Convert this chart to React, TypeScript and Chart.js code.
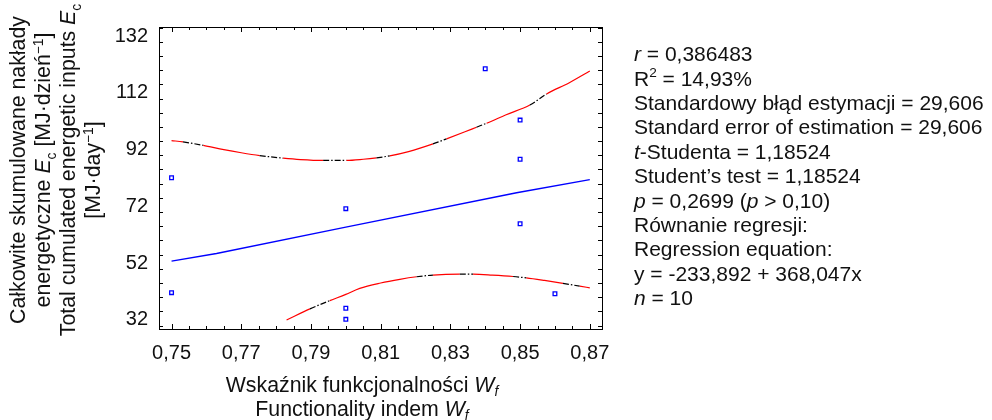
import { useEffect, useRef } from 'react';
import { Chart, registerables } from 'chart.js';

Chart.register(...registerables);

// ---------- data ----------
const X_TICKS = [0.75, 0.77, 0.79, 0.81, 0.83, 0.85, 0.87];
const Y_TICKS = [32, 52, 72, 92, 112, 132];
const X_MIN = 0.7464;
const X_MAX = 0.8735;
const Y_MIN = 28.8;
const Y_MAX = 135.2;

const POINT_X = [0.75, 0.75, 0.8, 0.8, 0.8, 0.84, 0.85, 0.85, 0.85, 0.86];
const POINT_Y = [82.1, 41.6, 71.2, 36.1, 32.2, 120.5, 102.4, 88.6, 65.9, 41.2];

const FIT_X = [0.75, 0.7629, 0.8, 0.849, 0.87];
const FIT_Y = [52.7, 55.4, 64.7, 76.8, 81.4];

const UPPER_X = [0.75, 0.7533, 0.7591, 0.765, 0.77, 0.7753, 0.782, 0.787, 0.7935, 0.8002, 0.805, 0.8088, 0.8126, 0.818, 0.825, 0.8289, 0.834, 0.8375, 0.8404, 0.846, 0.8528, 0.8576, 0.864, 0.87];
const UPPER_Y = [95.2, 94.7, 93.5, 92.0, 90.9, 89.9, 89.0, 88.5, 88.2, 88.2, 88.6, 89.1, 89.8, 91.3, 94.0, 95.8, 98.2, 99.9, 101.3, 104.3, 107.7, 111.6, 115.5, 119.7];
const UPPER_DASHED = [[0.7533, 0.7591], [0.7753, 0.782], [0.7935, 0.8002], [0.8088, 0.8126], [0.825, 0.8289], [0.8375, 0.8404], [0.8528, 0.8576]];

const LOWER_X = [0.783, 0.7897, 0.7954, 0.8, 0.804, 0.81, 0.8155, 0.8203, 0.825, 0.8327, 0.8365, 0.842, 0.848, 0.8518, 0.857, 0.8623, 0.8671, 0.87];
const LOWER_Y = [32.0, 35.9, 38.8, 41.0, 43.1, 45.0, 46.3, 47.2, 47.8, 48.1, 48.1, 47.8, 47.3, 46.8, 45.9, 44.9, 43.9, 43.3];
const LOWER_DASHED = [[0.7897, 0.7954], [0.8203, 0.825], [0.8327, 0.8365], [0.848, 0.8518], [0.8623, 0.8671]];

type Seg = { t: string; i?: boolean; sub?: boolean; sup?: boolean };

const STATS: Seg[][] = [
  [{ t: 'r', i: true }, { t: ' = 0,386483' }],
  [{ t: 'R' }, { t: '2', sup: true }, { t: ' = 14,93%' }],
  [{ t: 'Standardowy błąd estymacji = 29,606' }],
  [{ t: 'Standard error of estimation = 29,606' }],
  [{ t: 't', i: true }, { t: '-Studenta = 1,18524' }],
  [{ t: 'Student\u2019s test = 1,18524' }],
  [{ t: 'p', i: true }, { t: ' = 0,2699 (' }, { t: 'p', i: true }, { t: ' > 0,10)' }],
  [{ t: 'Równanie regresji:' }],
  [{ t: 'Regression equation:' }],
  [{ t: 'y = -233,892 + 368,047x' }],
  [{ t: 'n', i: true }, { t: ' = 10' }],
];

const Y_TITLE: Seg[][] = [
  [{ t: 'Całkowite skumulowane nakłady' }],
  [{ t: 'energetyczne ' }, { t: 'E', i: true }, { t: 'c', sub: true }, { t: ' [MJ·dzień' }, { t: '\u22121', sup: true }, { t: ']' }],
  [{ t: 'Total cumulated energetic inputs ' }, { t: 'E', i: true }, { t: 'c', sub: true }],
  [{ t: '[MJ·day' }, { t: '\u22121', sup: true }, { t: ']' }],
];

const X_TITLE: Seg[][] = [
  [{ t: 'Wskaźnik funkcjonalności ' }, { t: 'W', i: true }, { t: 'f', sub: true, i: true }],
  [{ t: 'Functionality indem ' }, { t: 'W', i: true }, { t: 'f', sub: true, i: true }],
];

// ---------- style ----------
const FONT = '"Liberation Sans", Arial, sans-serif';
const TICK_FS = 20;
const TITLE_FS = 21.3;
const STATS_FS = 21;
const TEXT = '#111';

function fontFor(s: Seg, size: number) {
  const sz = s.sub || s.sup ? size * 0.65 : size;
  return `${s.i ? 'italic ' : ''}${sz}px ${FONT}`;
}

function richWidth(ctx: CanvasRenderingContext2D, segs: Seg[], size: number) {
  let w = 0;
  for (const s of segs) {
    ctx.font = fontFor(s, size);
    w += ctx.measureText(s.t).width;
  }
  return w;
}

function drawRich(
  ctx: CanvasRenderingContext2D,
  segs: Seg[],
  x: number,
  y: number,
  align: 'left' | 'center',
  size: number,
  baseline: CanvasTextBaseline = 'middle'
) {
  const w = richWidth(ctx, segs, size);
  let cx = align === 'center' ? x - w / 2 : x;
  ctx.textAlign = 'left';
  ctx.textBaseline = baseline;
  for (const s of segs) {
    ctx.font = fontFor(s, size);
    let dy = 0;
    if (s.sub) dy = size * 0.3;
    if (s.sup) dy = -size * 0.32;
    ctx.fillText(s.t, cx, y + dy);
    cx += ctx.measureText(s.t).width;
  }
}

function inRanges(x: number, ranges: number[][]) {
  return ranges.some(([a, b]) => x > a && x < b);
}

const framePlugin = {
  id: 'frameTicks',
  beforeDatasetsDraw(chart: any) {
    const { ctx, chartArea: a, scales } = chart;
    const xs = scales.x;
    const ys = scales.y;
    ctx.save();
    ctx.strokeStyle = '#000';
    ctx.lineWidth = 1;
    ctx.beginPath();
    for (let k = 0; k <= 26; k++) {
      const v = 0.745 + k * 0.005;
      if (v < X_MIN || v > X_MAX) continue;
      const major = X_TICKS.some((t) => Math.abs(t - v) < 1e-6);
      const len = major ? 5 : 3;
      const px = Math.round(xs.getPixelForValue(v)) + 0.5;
      ctx.moveTo(px, a.bottom);
      ctx.lineTo(px, a.bottom - len);
      ctx.moveTo(px, a.top);
      ctx.lineTo(px, a.top + len);
    }
    for (let v = 30; v <= 135; v += 5) {
      if (v < Y_MIN || v > Y_MAX) continue;
      const major = Y_TICKS.includes(v);
      const len = major ? 10 : 4;
      const py = Math.round(ys.getPixelForValue(v)) + 0.5;
      ctx.moveTo(a.left, py);
      ctx.lineTo(a.left + len, py);
      ctx.moveTo(a.right, py);
      ctx.lineTo(a.right - len, py);
    }
    ctx.stroke();
    ctx.strokeRect(Math.round(a.left) + 0.5, Math.round(a.top) + 0.5, Math.round(a.right - a.left), Math.round(a.bottom - a.top));
    ctx.restore();
  },
  afterDraw(chart: any) {
    const { ctx } = chart;
    ctx.save();
    ctx.fillStyle = TEXT;
    STATS.forEach((line, k) => drawRich(ctx, line, 634, 55.5 + k * 24.4, 'left', STATS_FS));
    X_TITLE.forEach((line, k) => drawRich(ctx, line, 362, 386 + k * 24, 'center', TITLE_FS));
    ctx.translate(0, 170);
    ctx.rotate(-Math.PI / 2);
    const bases = [25, 50, 75, 100];
    Y_TITLE.forEach((line, k) => {
      drawRich(ctx, line, 0, bases[k], 'center', TITLE_FS, 'alphabetic');
    });
    ctx.restore();
  },
};

function fmt(v: number, d: number) {
  return v.toFixed(d).replace('.', ',');
}

export default function App() {
  const ref = useRef<HTMLCanvasElement | null>(null);
  useEffect(() => {
    document.body.style.margin = '0';
    const canvas = ref.current!;
    const curveSeg = (ranges: number[][]) => ({
      borderColor: (c: any) => (inRanges((c.p0.parsed.x + c.p1.parsed.x) / 2, ranges) ? '#000' : '#ff0000'),
      borderDash: (c: any) => (inRanges((c.p0.parsed.x + c.p1.parsed.x) / 2, ranges) ? [6, 2, 1.5, 2] : []),
    });
    const chart = new Chart(canvas, {
      type: 'scatter',
      data: {
        datasets: [
          {
            label: 'upper',
            data: UPPER_X.map((x, i) => ({ x, y: UPPER_Y[i] })),
            showLine: true,
            pointRadius: 0,
            borderColor: '#ff0000',
            borderWidth: 1.2,
            segment: curveSeg(UPPER_DASHED),
            cubicInterpolationMode: 'monotone',
          },
          {
            label: 'lower',
            data: LOWER_X.map((x, i) => ({ x, y: LOWER_Y[i] })),
            showLine: true,
            pointRadius: 0,
            borderColor: '#ff0000',
            borderWidth: 1.2,
            segment: curveSeg(LOWER_DASHED),
            cubicInterpolationMode: 'monotone',
          },
          {
            label: 'fit',
            data: FIT_X.map((x, i) => ({ x, y: FIT_Y[i] })),
            showLine: true,
            pointRadius: 0,
            borderColor: '#0000ff',
            borderWidth: 1.3,
          },
          {
            label: 'points',
            data: POINT_X.map((x, i) => ({ x, y: POINT_Y[i] })),
            pointStyle: 'rect',
            pointRadius: 2.6,
            borderWidth: 1.3,
            borderColor: '#0000ff',
            backgroundColor: '#ffffff',
          },
        ],
      } as any,
      options: {
        animation: false,
        responsive: false,
        events: [],
        layout: { padding: { left: 0, right: 390, top: 27, bottom: 0 } },
        plugins: { legend: { display: false }, tooltip: { enabled: false } },
        scales: {
          x: {
            type: 'linear',
            min: X_MIN,
            max: X_MAX,
            grid: { display: false, drawTicks: false },
            border: { display: false },
            afterBuildTicks: (s: any) => {
              s.ticks = X_TICKS.map((v) => ({ value: v }));
            },
            afterFit: (s: any) => {
              s.height = 91;
            },
            ticks: {
              padding: 12,
              color: TEXT,
              font: { family: FONT, size: TICK_FS },
              maxRotation: 0,
              autoSkip: false,
              callback: (v: any) => fmt(Number(v), 2),
            },
          },
          y: {
            type: 'linear',
            min: Y_MIN,
            max: Y_MAX,
            grid: { display: false, drawTicks: false },
            border: { display: false },
            afterBuildTicks: (s: any) => {
              s.ticks = Y_TICKS.map((v) => ({ value: v }));
            },
            afterFit: (s: any) => {
              s.width = 159;
            },
            ticks: {
              padding: 11,
              color: TEXT,
              font: { family: FONT, size: TICK_FS },
              autoSkip: false,
              callback: (v: any) => String(v),
            },
          },
        },
      } as any,
      plugins: [framePlugin],
    });
    return () => chart.destroy();
  }, []);
  return (
    <div style={{ width: 992, height: 420 }}>
      <canvas ref={ref} width={992} height={420} style={{ display: 'block' }} />
    </div>
  );
}
